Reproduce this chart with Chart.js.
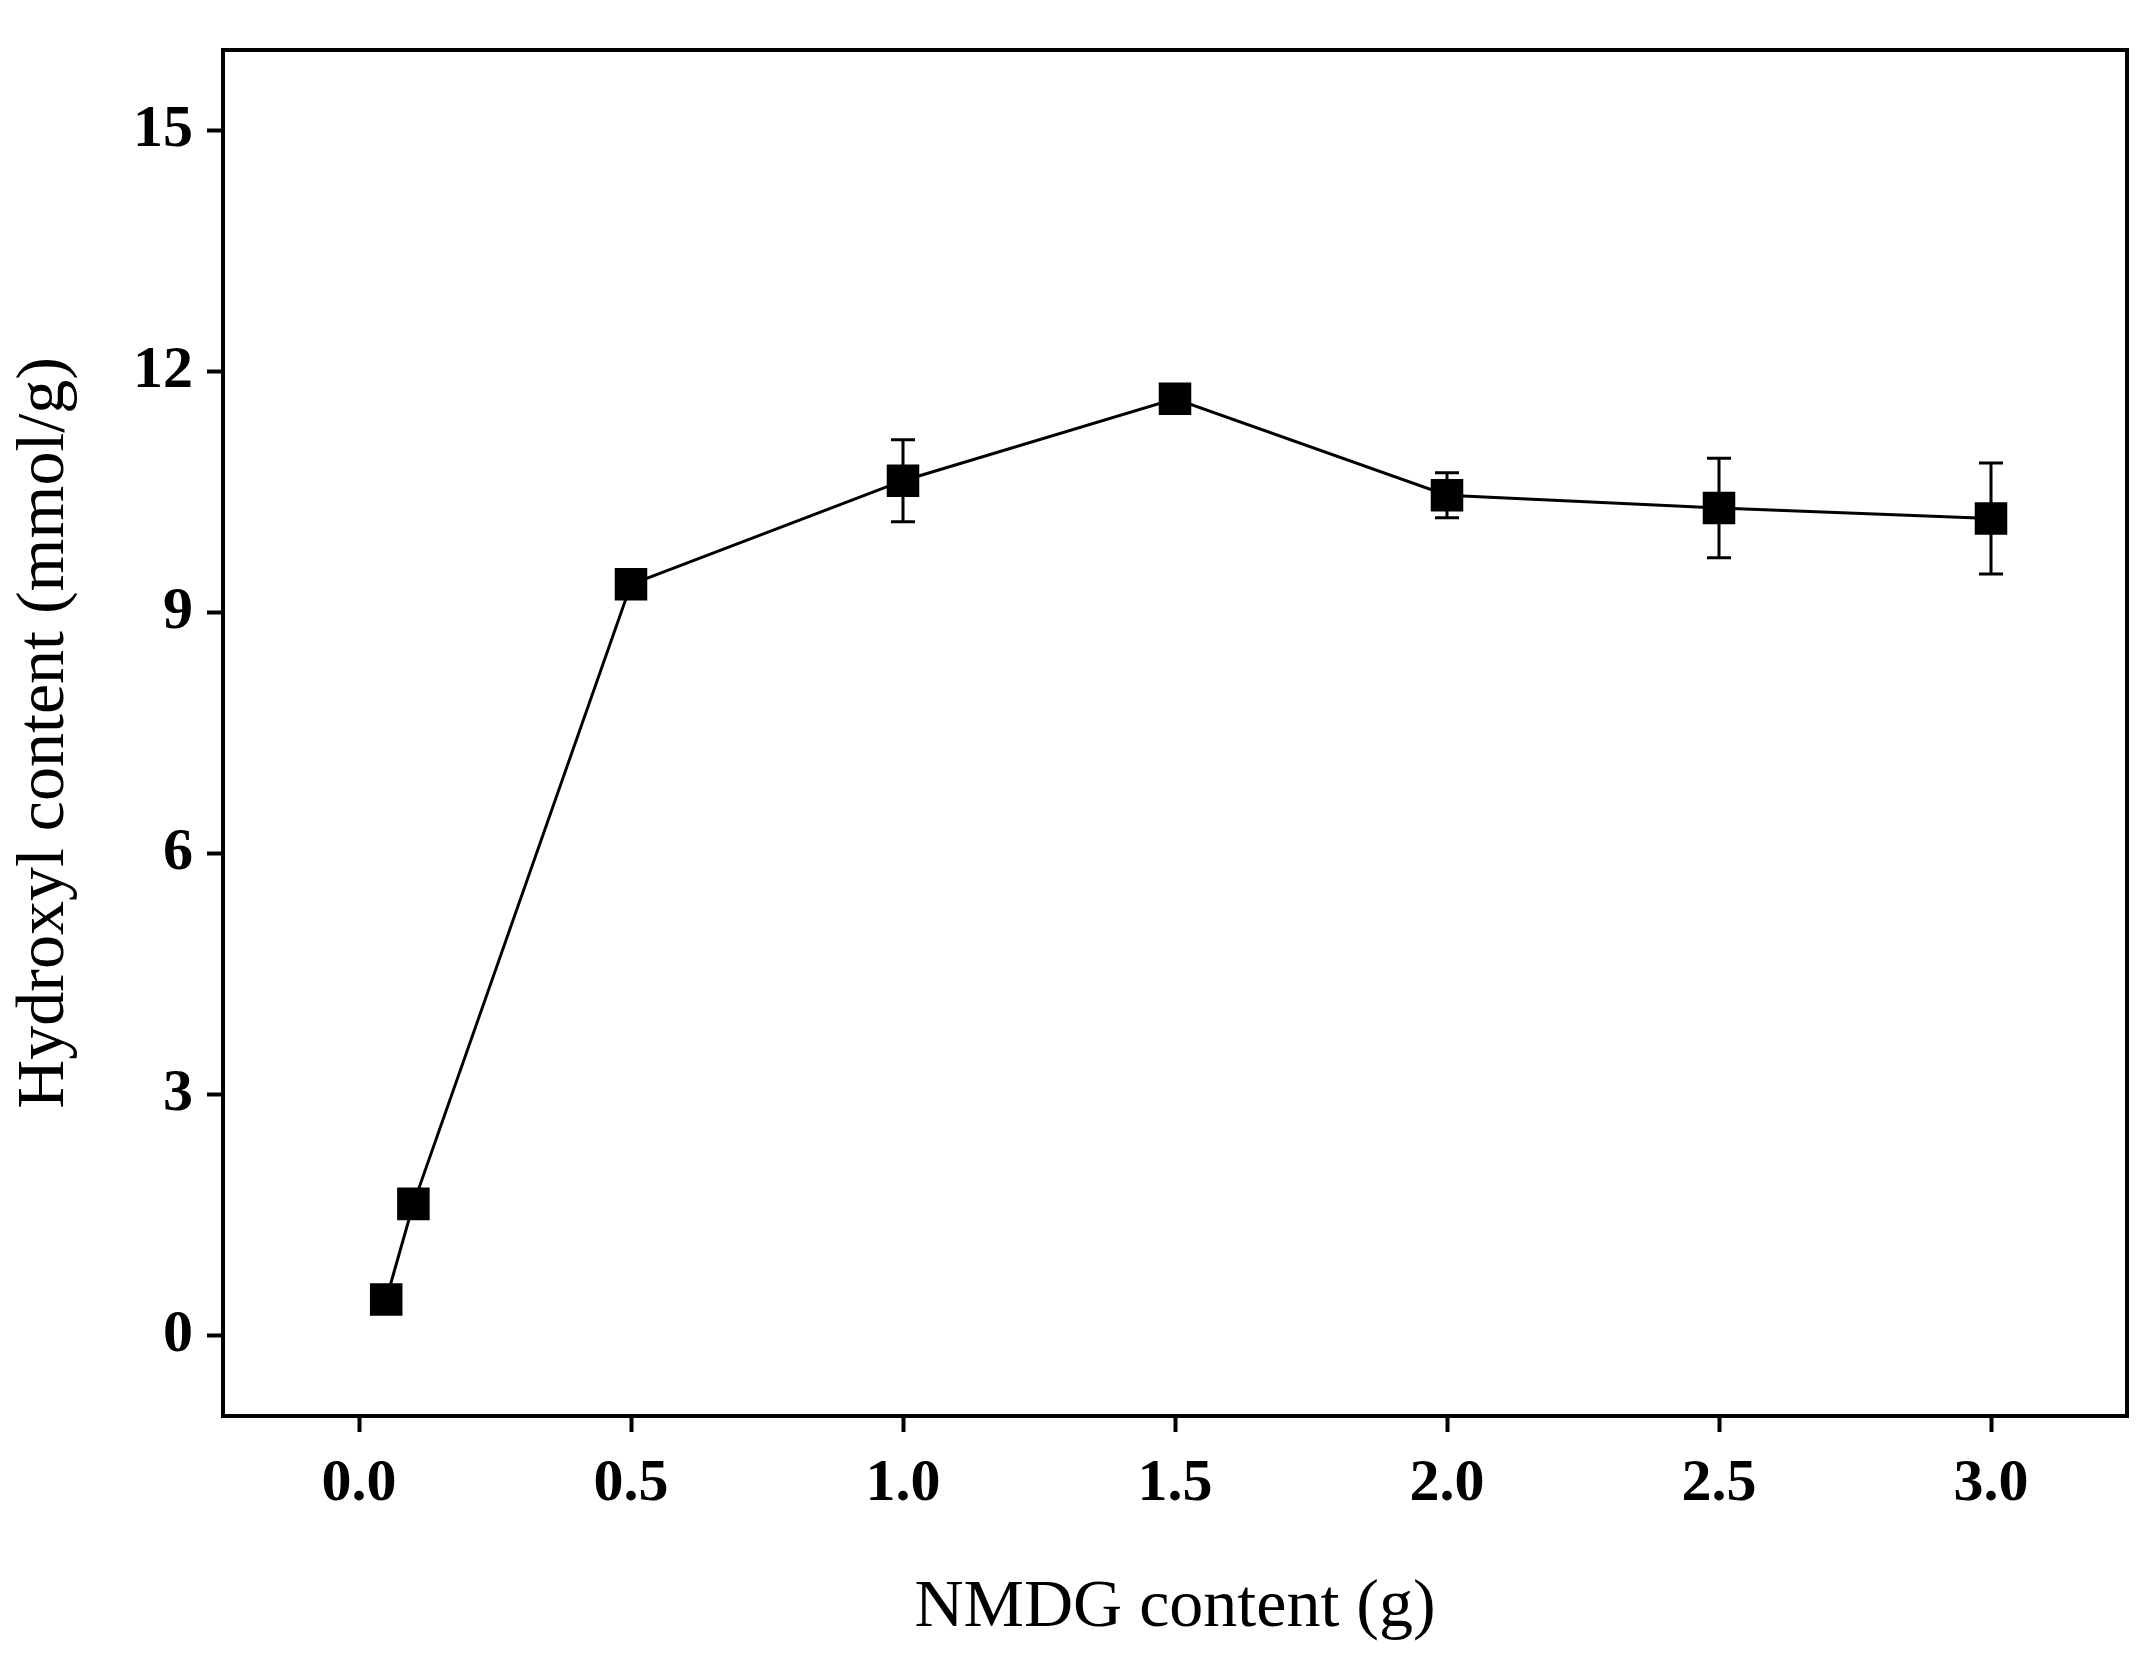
<!DOCTYPE html>
<html>
<head>
<meta charset="utf-8">
<script src="https://cdn.jsdelivr.net/npm/chart.js@4/dist/chart.umd.min.js"></script>
<style>
  html, body { margin: 0; padding: 0; background: #fff; }
  #wrap { width: 2150px; height: 1653px; }
</style>
</head>
<body>
<div id="wrap"><canvas id="chart" width="2150" height="1653"></canvas></div>
<script>
const nmdg = [0.05, 0.1, 0.5, 1.0, 1.5, 2.0, 2.5, 3.0];
const hydroxyl = [0.45, 1.64, 9.35, 10.64, 11.66, 10.46, 10.3, 10.17];
const errors = [0.1, 0.1, 0.1, 0.51, 0.1, 0.28, 0.62, 0.69];
const xTicks = [0, 0.5, 1.0, 1.5, 2.0, 2.5, 3.0];
const yTicks = [0, 3, 6, 9, 12, 15];

const tickFont = { family: "Liberation Serif", size: 60, weight: "bold" };
const titleFont = { family: "Liberation Serif", size: 68 };

// error bars and the top/right frame
const extras = {
  id: "extras",
  afterDatasetsDraw(chart) {
    const { ctx, scales, chartArea } = chart;
    ctx.save();
    ctx.strokeStyle = "#000";
    ctx.lineWidth = 3;
    nmdg.forEach((x, i) => {
      const px = scales.x.getPixelForValue(x);
      const top = scales.y.getPixelForValue(hydroxyl[i] + errors[i]);
      const bot = scales.y.getPixelForValue(hydroxyl[i] - errors[i]);
      ctx.beginPath();
      ctx.moveTo(px, top); ctx.lineTo(px, bot);
      ctx.moveTo(px - 12, top); ctx.lineTo(px + 12, top);
      ctx.moveTo(px - 12, bot); ctx.lineTo(px + 12, bot);
      ctx.stroke();
    });
    ctx.lineWidth = 4;
    ctx.strokeRect(chartArea.left, chartArea.top,
      chartArea.right - chartArea.left, chartArea.bottom - chartArea.top);
    ctx.restore();
  },
};

new Chart(document.getElementById("chart"), {
  type: "line",
  data: {
    datasets: [{
      data: nmdg.map((x, i) => ({ x, y: hydroxyl[i] })),
      borderColor: "#000",
      backgroundColor: "#000",
      borderWidth: 3,
      pointStyle: "rect",
      pointRadius: 23,
      pointBorderWidth: 0,
      tension: 0,
    }],
  },
  options: {
    responsive: false,
    animation: false,
    layout: { padding: { top: 0, right: 18 } },
    plugins: { legend: { display: false }, tooltip: { enabled: false } },
    scales: {
      x: {
        type: "linear",
        min: -0.25,
        max: 3.25,
        afterBuildTicks(s) { s.ticks = xTicks.map((v) => ({ value: v })); },
        afterFit(s) { s.height = 237; },
        ticks: {
          color: "#000", font: tickFont, padding: 16,
          callback: (v) => v.toFixed(1),
        },
        grid: { drawOnChartArea: false, tickLength: 16, tickWidth: 4, color: "#000" },
        border: { display: true, color: "#000", width: 4 },
        title: { display: true, text: "NMDG content (g)", color: "#000", font: titleFont, padding: { top: 40 } },
      },
      y: {
        min: -1,
        max: 16,
        afterBuildTicks(s) { s.ticks = yTicks.map((v) => ({ value: v })); },
        afterFit(s) { s.width = 223; },
        ticks: { color: "#000", font: tickFont, padding: 14 },
        grid: { drawOnChartArea: false, tickLength: 16, tickWidth: 4, color: "#000" },
        border: { display: true, color: "#000", width: 4 },
        title: { display: true, text: "Hydroxyl content (mmol/g)", color: "#000", font: titleFont, padding: { bottom: 6 } },
      },
    },
  },
  plugins: [extras],
});
</script>
</body>
</html>
